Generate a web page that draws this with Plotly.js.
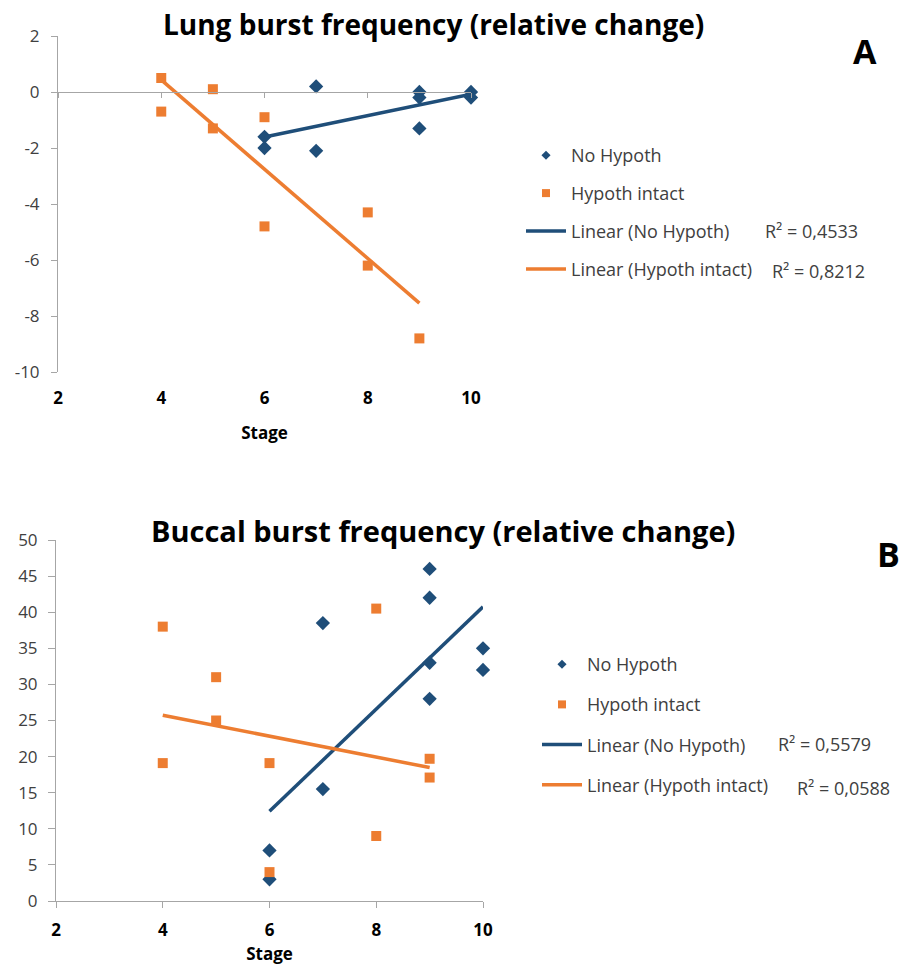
<!DOCTYPE html>
<html><head><meta charset="utf-8">
<script src="https://cdn.plot.ly/plotly-3.0.1.min.js"></script>
<style>html,body{margin:0;padding:0;background:#fff}#chart{width:901px;height:965px}</style>
</head><body><div id="chart"></div>
<script>
// ---- data ----
const stageLungNo = [6, 6, 7, 7, 9, 9, 9, 10, 10];
const lungNo = [-1.6, -2.0, 0.2, -2.1, 0, -0.2, -1.3, 0, -0.2];
const stageLungIntact = [4, 4, 5, 5, 6, 6, 8, 8, 9];
const lungIntact = [0.5, -0.7, 0.1, -1.3, -0.9, -4.8, -4.3, -6.2, -8.8];
const stageBuccalNo = [6, 6, 7, 7, 9, 9, 9, 9, 10, 10];
const buccalNo = [7, 3, 38.5, 15.5, 46, 42, 33, 28, 35, 32];
const stageBuccalIntact = [4, 4, 5, 5, 6, 6, 8, 8, 9, 9];
const buccalIntact = [38, 19.1, 31, 25, 19.1, 4, 40.5, 9, 19.7, 17.1];
const xTicks = [2, 4, 6, 8, 10];
const lungYTicks = [-10, -8, -6, -4, -2, 0, 2];
const lungYTickText = ['-10', '-8', '-6', '-4', '-2', '0', '2'];
const buccalYTicks = [0, 5, 10, 15, 20, 25, 30, 35, 40, 45, 50];
const seriesNames = ['No Hypoth', 'Hypoth intact', 'Linear (No Hypoth)', 'Linear (Hypoth intact)'];
const r2Lung = ['R\u00b2 = 0,4533', 'R\u00b2 = 0,8212'];
const r2Buccal = ['R\u00b2 = 0,5579', 'R\u00b2 = 0,0588'];
const titleLung = 'Lung burst frequency (relative change)';
const titleBuccal = 'Buccal burst frequency (relative change)';
const xTitle = 'Stage';

// ---- style ----
const W = 901, H = 965;
const BLUE = '#1F4E79', ORANGE = '#ED7D31', AXIS = '#A6A6A6', TXT = '#404040';
const FONT = '"Open Sans", Lato, sans-serif';
const px = v => v / W;
const py = v => 1 - v / H;

function linFit(xs, ys) {
  const n = xs.length;
  const mx = xs.reduce((a, b) => a + b, 0) / n;
  const my = ys.reduce((a, b) => a + b, 0) / n;
  let sxy = 0, sxx = 0;
  for (let i = 0; i < n; i++) { sxy += (xs[i] - mx) * (ys[i] - my); sxx += (xs[i] - mx) ** 2; }
  const b = sxy / sxx, a = my - b * mx;
  const x0 = Math.min(...xs), x1 = Math.max(...xs);
  return { x: [x0, x1], y: [a + b * x0, a + b * x1] };
}

function panel(xa, ya, legendId, xs1, ys1, xs2, ys2) {
  const f1 = linFit(xs1, ys1), f2 = linFit(xs2, ys2);
  const base = { xaxis: xa, yaxis: ya, cliponaxis: false, hoverinfo: 'x+y' };
  return [
    Object.assign({}, base, { type: 'scatter', mode: 'markers', x: xs1, y: ys1, name: seriesNames[0], showlegend: false,
      marker: { symbol: 'diamond', size: 11, color: BLUE } }),
    Object.assign({}, base, { type: 'scatter', mode: 'markers', x: xs2, y: ys2, name: seriesNames[1], showlegend: false,
      marker: { symbol: 'square', size: 10, color: ORANGE } }),
    Object.assign({}, base, { type: 'scatter', mode: 'lines', x: f1.x, y: f1.y, name: seriesNames[2], showlegend: false,
      line: { color: BLUE, width: 3.5 } }),
    Object.assign({}, base, { type: 'scatter', mode: 'lines', x: f2.x, y: f2.y, name: seriesNames[3], showlegend: false,
      line: { color: ORANGE, width: 3.5 } }),
    // legend entries
    { type: 'scatter', mode: 'markers', x: [null], y: [null], xaxis: xa, yaxis: ya, name: seriesNames[0], legend: legendId, legendgroup: legendId + 'a',
      marker: { symbol: 'diamond', size: 7, color: BLUE } },
    { type: 'scatter', mode: 'markers', x: [null], y: [null], xaxis: xa, yaxis: ya, name: seriesNames[1], legend: legendId, legendgroup: legendId + 'b',
      marker: { symbol: 'square', size: 8, color: ORANGE } },
    { type: 'scatter', mode: 'lines', x: [null], y: [null], xaxis: xa, yaxis: ya, name: seriesNames[2], legend: legendId, legendgroup: legendId + 'c',
      line: { color: BLUE, width: 3.5 } },
    { type: 'scatter', mode: 'lines', x: [null], y: [null], xaxis: xa, yaxis: ya, name: seriesNames[3], legend: legendId, legendgroup: legendId + 'd',
      line: { color: ORANGE, width: 3.5 } }
  ];
}

const traces = [].concat(
  panel('x', 'y', 'legend', stageLungNo, lungNo, stageLungIntact, lungIntact),
  panel('x2', 'y2', 'legend2', stageBuccalNo, buccalNo, stageBuccalIntact, buccalIntact)
);
// dummy trace so the zero-crossing axis is drawn
traces.push({ type: 'scatter', mode: 'markers', x: [null], y: [null], xaxis: 'x3', yaxis: 'y', showlegend: false, hoverinfo: 'skip' });

const topY = [py(372), py(36)];
const topRange = [-10, 2];
const yZeroPos = topY[0] + (0 - topRange[0]) / (topRange[1] - topRange[0]) * (topY[1] - topY[0]);

const tickBold = { family: FONT, size: 17, color: '#000', weight: 'bold' };
const tickReg = { family: FONT, size: 17, color: TXT };
const xTitleFont = { family: FONT, size: 17, color: '#000', weight: 'bold' };

const legendCommon = { xanchor: 'left', yanchor: 'top', font: { family: FONT, size: 18, color: TXT },
  itemwidth: 40, bgcolor: 'rgba(0,0,0,0)', traceorder: 'grouped', itemclick: false, itemdoubleclick: false };

const layout = {
  width: W, height: H,
  margin: { l: 0, r: 0, t: 0, b: 0 },
  paper_bgcolor: '#fff', plot_bgcolor: '#fff',
  font: { family: FONT, color: TXT },
  showlegend: true,
  legend: Object.assign({}, legendCommon, { x: px(521), y: py(137), tracegroupgap: 11.5 }),
  legend2: Object.assign({}, legendCommon, { x: px(537), y: py(646), tracegroupgap: 13.8 }),
  xaxis: { domain: [px(58), px(471)], anchor: 'y', range: [2, 10], tickvals: xTicks, showline: false, zeroline: false,
    showgrid: false, ticks: '', tickfont: tickBold, ticklabelstandoff: 14,
    title: { text: xTitle, font: xTitleFont, standoff: 19 } },
  xaxis3: { overlaying: 'x', anchor: 'free', position: yZeroPos, range: [2, 10], tickvals: xTicks, showline: true,
    linecolor: AXIS, linewidth: 1, ticks: 'outside', ticklen: 5, tickcolor: AXIS, showticklabels: false, showgrid: false, zeroline: false },
  yaxis: { domain: topY, anchor: 'x', range: topRange, tickvals: lungYTicks, ticktext: lungYTickText, showline: true,
    linecolor: AXIS, linewidth: 1, ticks: 'outside', ticklen: 6, tickcolor: AXIS, showgrid: false, zeroline: false,
    tickfont: tickReg, ticklabelstandoff: 8 },
  xaxis2: { domain: [px(56), px(483)], anchor: 'y2', range: [2, 10], tickvals: xTicks, showline: true, linecolor: AXIS,
    linewidth: 1, ticks: 'outside', ticklen: 6, tickcolor: AXIS, showgrid: false, zeroline: false, tickfont: tickBold,
    ticklabelstandoff: 8, title: { text: xTitle, font: xTitleFont, standoff: 8 } },
  yaxis2: { domain: [py(901), py(540)], anchor: 'x2', range: [0, 50], tickvals: buccalYTicks, showline: true,
    linecolor: AXIS, linewidth: 1, ticks: 'outside', ticklen: 7, tickcolor: AXIS, showgrid: false, zeroline: false,
    tickfont: tickReg, ticklabelstandoff: 7 },
  annotations: [
    { text: titleLung, xref: 'paper', yref: 'paper', x: px(433), y: py(24), xanchor: 'center', yanchor: 'middle', showarrow: false,
      font: { family: FONT, size: 28, color: '#000', weight: 'bold' } },
    { text: titleBuccal, xref: 'paper', yref: 'paper', x: px(443), y: py(530), xanchor: 'center', yanchor: 'middle', showarrow: false,
      font: { family: FONT, size: 29, color: '#000', weight: 'bold' } },
    { text: 'A', xref: 'paper', yref: 'paper', x: px(865), y: py(51), xanchor: 'center', yanchor: 'middle', showarrow: false,
      font: { family: FONT, size: 34, color: '#000', weight: 'bold' } },
    { text: 'B', xref: 'paper', yref: 'paper', x: px(888), y: py(554), xanchor: 'center', yanchor: 'middle', showarrow: false,
      font: { family: FONT, size: 34, color: '#000', weight: 'bold' } },
    { text: r2Lung[0], xref: 'paper', yref: 'paper', x: px(763), y: py(231), xanchor: 'left', yanchor: 'middle', showarrow: false,
      font: { family: FONT, size: 18, color: TXT } },
    { text: r2Lung[1], xref: 'paper', yref: 'paper', x: px(770), y: py(271), xanchor: 'left', yanchor: 'middle', showarrow: false,
      font: { family: FONT, size: 18, color: TXT } },
    { text: r2Buccal[0], xref: 'paper', yref: 'paper', x: px(776), y: py(744), xanchor: 'left', yanchor: 'middle', showarrow: false,
      font: { family: FONT, size: 18, color: TXT } },
    { text: r2Buccal[1], xref: 'paper', yref: 'paper', x: px(795), y: py(788), xanchor: 'left', yanchor: 'middle', showarrow: false,
      font: { family: FONT, size: 18, color: TXT } }
  ]
};

Plotly.newPlot('chart', traces, layout, { staticPlot: true, displayModeBar: false });
</script>
</body></html>
